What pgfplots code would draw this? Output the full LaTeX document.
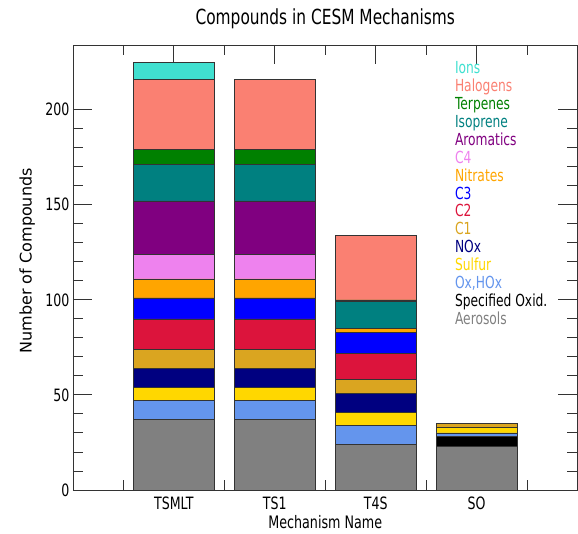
\documentclass[border=0pt]{standalone}
\usepackage{pgfplots}
\usepackage{pgfplotstable}
\pgfplotsset{compat=1.18}
\usepackage{fontspec}
\setmainfont{DejaVu Sans}[FakeStretch=0.74]
\newfontfamily\ylabfont{DejaVu Sans}
\definecolor{caer}{RGB}{128,128,128}
\definecolor{cspec}{RGB}{0,0,0}
\definecolor{cox}{RGB}{100,149,237}
\definecolor{csulf}{RGB}{255,215,0}
\definecolor{cnox}{RGB}{0,0,128}
\definecolor{cone}{RGB}{218,165,32}
\definecolor{ctwo}{RGB}{220,20,60}
\definecolor{cthree}{RGB}{0,0,255}
\definecolor{cnitr}{RGB}{255,165,0}
\definecolor{cfour}{RGB}{238,130,238}
\definecolor{carom}{RGB}{128,0,128}
\definecolor{cisop}{RGB}{0,128,128}
\definecolor{cterp}{RGB}{0,128,0}
\definecolor{chalo}{RGB}{250,128,114}
\definecolor{cions}{RGB}{64,224,208}
\pgfplotstableread{
x aer spec oxhox sulf nox cone ctwo cthree nitr cfour arom isop terp halo ions
1 37 0 10 7 10 10 16 11 10 13 28 19 8 37 9
2 37 0 10 7 10 10 16 11 10 13 28 19 8 37 0
3 24 0 10 7 10 7 14 11 2 0 0 14 1 34 0
4 23 5 2 3 0 2 0 0 0 0 0 0 0 0 0
}\data
\begin{document}
\begin{tikzpicture}
\begin{axis}[
  name=ax,
  scale only axis,
  width=504.5pt, height=445pt,
  ybar stacked, bar width=0.8,
  xmin=0, xmax=5, ymin=0, ymax=234,
  enlargelimits=false,
  xtick={1,2,3,4}, xticklabels={TSMLT,TS1,T4S,SO},
  minor xtick={0.5,1.5,2.5,3.5,4.5},
  ytick={0,50,100,150,200}, minor y tick num=4,
  xtick pos=both, ytick pos=both,
  tick align=inside,
  major tick length=19pt, minor tick length=10pt,
  every tick/.style={line width=0.9pt, black!80},
  axis line style={line width=0.9pt, black!80},
  /pgf/number format/assume math mode=true,
  tick label style={font=\fontsize{17}{20}\selectfont},
  xticklabel style={yshift=-3pt},
  title={Compounds in CESM Mechanisms},
  title style={font=\fontsize{20.8}{24}\selectfont, at={(axis description cs:0.5,1)}, anchor=center, yshift=20pt},
  xlabel={Mechanism Name},
  xlabel style={font=\fontsize{17.2}{20}\selectfont, at={(axis description cs:0.5,-0.072)}, anchor=center},
  ylabel={Number of Compounds},
  ylabel style={font=\ylabfont\fontsize{16}{19}\selectfont, at={(axis description cs:-0.091,0.515)}, anchor=center},
  every axis plot/.append style={draw=black!80, line width=0.6pt},
  reverse legend,
  legend image code/.code={},
  legend style={draw=none, fill=none, at={(axis cs:3.786,225.5)}, anchor=north west,
    font=\fontsize{16.6}{19}\selectfont, inner sep=0pt, outer sep=0pt, row sep=0pt,
    column sep=0pt,
    nodes={inner sep=0pt, text height=12.6pt, text depth=5.3pt}},
  legend cell align=left,
]
\addplot[fill=caer] table[x=x,y=aer]{\data};
\addlegendentry{\textcolor{caer}{Aerosols}}
\addplot[fill=cspec] table[x=x,y=spec]{\data};
\addlegendentry{\textcolor{cspec}{Specified Oxid.}}
\addplot[fill=cox] table[x=x,y=oxhox]{\data};
\addlegendentry{\textcolor{cox}{Ox,HOx}}
\addplot[fill=csulf] table[x=x,y=sulf]{\data};
\addlegendentry{\textcolor{csulf}{Sulfur}}
\addplot[fill=cnox] table[x=x,y=nox]{\data};
\addlegendentry{\textcolor{cnox}{NOx}}
\addplot[fill=cone] table[x=x,y=cone]{\data};
\addlegendentry{\textcolor{cone}{C1}}
\addplot[fill=ctwo] table[x=x,y=ctwo]{\data};
\addlegendentry{\textcolor{ctwo}{C2}}
\addplot[fill=cthree] table[x=x,y=cthree]{\data};
\addlegendentry{\textcolor{cthree}{C3}}
\addplot[fill=cnitr] table[x=x,y=nitr]{\data};
\addlegendentry{\textcolor{cnitr}{Nitrates}}
\addplot[fill=cfour] table[x=x,y=cfour]{\data};
\addlegendentry{\textcolor{cfour}{C4}}
\addplot[fill=carom] table[x=x,y=arom]{\data};
\addlegendentry{\textcolor{carom}{Aromatics}}
\addplot[fill=cisop] table[x=x,y=isop]{\data};
\addlegendentry{\textcolor{cisop}{Isoprene}}
\addplot[fill=cterp] table[x=x,y=terp]{\data};
\addlegendentry{\textcolor{cterp}{Terpenes}}
\addplot[fill=chalo] table[x=x,y=halo]{\data};
\addlegendentry{\textcolor{chalo}{Halogens}}
\addplot[fill=cions] table[x=x,y=ions]{\data};
\addlegendentry{\textcolor{cions}{Ions}}
\end{axis}
\pgfresetboundingbox
\path[use as bounding box] (ax.south west) ++(-73pt,-44pt) rectangle ++(578pt,534pt);
\end{tikzpicture}
\end{document}
